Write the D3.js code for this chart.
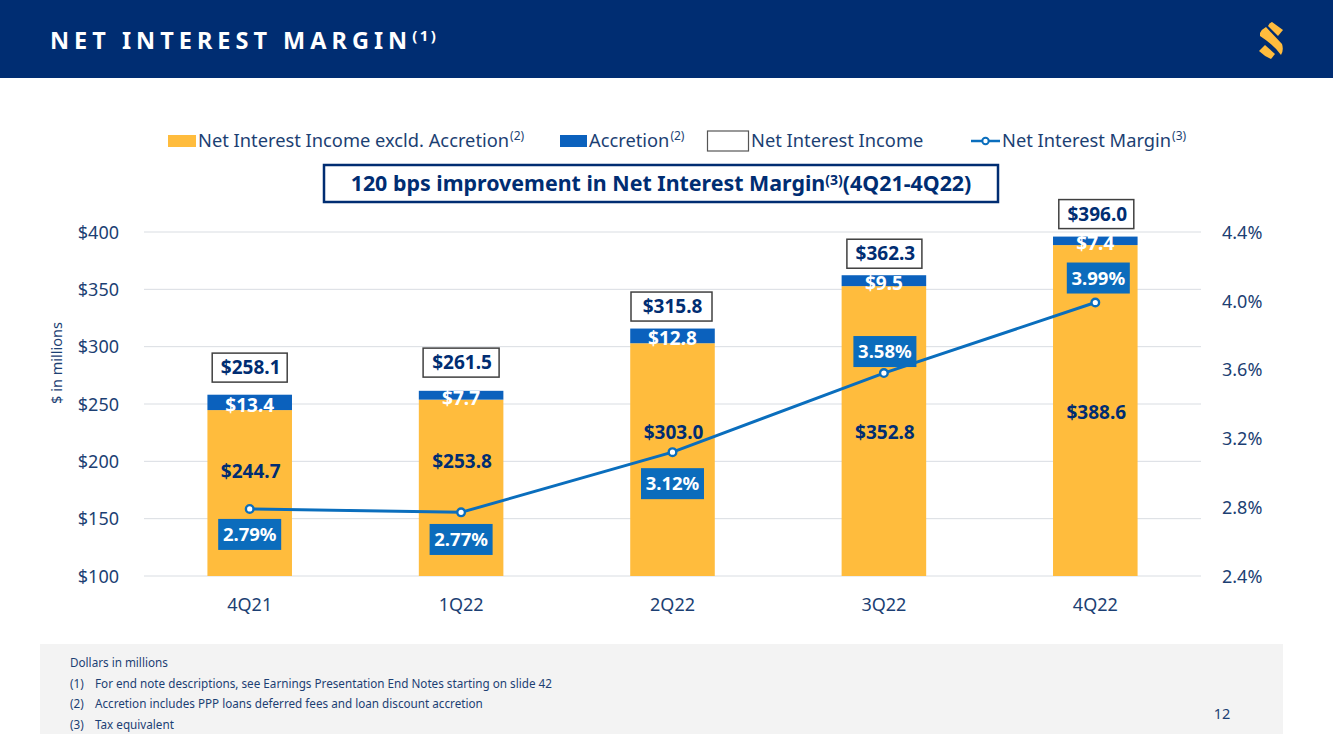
<!DOCTYPE html>
<html>
<head>
<meta charset="utf-8">
<script src="https://cdn.jsdelivr.net/npm/d3@7"></script>
<style>
  body { margin: 0; background: #fff; }
  svg { display: block; }
  text { font-family: "Noto Sans", "Open Sans", sans-serif; }
</style>
</head>
<body>
<script>
const quarters = ['4Q21', '1Q22', '2Q22', '3Q22', '4Q22']
const incomeExcl = [244.7, 253.8, 303.0, 352.8, 388.6]
const accretion = [13.4, 7.7, 12.8, 9.5, 7.4]
const incomeTotal = [258.1, 261.5, 315.8, 362.3, 396.0]
const margin = [2.79, 2.77, 3.12, 3.58, 3.99]
const dollarTicks = [100, 150, 200, 250, 300, 350, 400]
const percentTicks = [2.4, 2.8, 3.2, 3.6, 4.0, 4.4]
const footnotes = [
  ['', 'Dollars in millions'],
  ['(1)', 'For end note descriptions, see Earnings Presentation End Notes starting on slide 42'],
  ['(2)', 'Accretion includes PPP loans deferred fees and loan discount accretion'],
  ['(3)', 'Tax equivalent']
]

const navy = '#002d72'
const textBlue = '#1c3f73'
const gold = '#ffbc3d'
const blue = '#0b61bd'
const lineBlue = '#0a6ebd'

// hand placed label nudges, same as the slide (pixels from the mark they belong to)
const exclLabelDy = [68, 68, 96, 153, 174]
const totalBoxGap = [12.6, 13.7, 7.5, 7, 8]
const totalBoxDx = [0, 0, -1, 0.5, 1]
const totalBoxW = [75, 76, 81, 75, 75]
const marginBoxDy = [10, 11.6, 16, -37, -40]
const marginBoxDx = [0, 0, 0, 1, 3]

const width = 1333
const height = 749
const svg = d3.select('body').append('svg').attr('width', width).attr('height', height)

// header
svg.append('rect').attr('width', width).attr('height', 78).attr('fill', navy)
const title = svg.append('text').attr('x', 50).attr('y', 49).attr('fill', '#fff')
  .attr('font-size', 23.5).attr('font-weight', 700).attr('letter-spacing', 5)
title.append('tspan').text('NET INTEREST MARGIN')
title.append('tspan').attr('dy', -8).attr('font-size', 15).attr('letter-spacing', 2.5).text('(1)')

// logo
const logo = svg.append('g').attr('fill', gold)
logo.append('path').attr('d', 'M1268 26 Q1269 23 1272 22 L1283 30 L1278 36 Z')
logo.append('path').attr('d', 'M1260 33 Q1262 29 1266 27 L1282 44 Q1284 50 1281 55 Q1274 45 1260 36 Z')
logo.append('path').attr('d', 'M1259 51 L1265 45 L1275 54 L1271 59 Q1264 56 1259 51 Z')

// scales
const x = d3.scaleBand().domain(quarters).range([144, 1201]).paddingInner(0.6).paddingOuter(0.3)
const y = d3.scaleLinear().domain([100, 400]).range([576, 232])
const yRight = d3.scaleLinear().domain([2.4, 4.4]).range([576, 232])
const cx = (q) => x(q) + x.bandwidth() / 2

// gridlines and axes
svg.append('g').selectAll('line').data(dollarTicks).enter().append('line')
  .attr('x1', 144).attr('x2', 1201)
  .attr('y1', (d) => y(d)).attr('y2', (d) => y(d))
  .attr('stroke', '#d9dde2').attr('stroke-width', 1)

const styleAxis = (g) => {
  g.select('.domain').remove()
  g.selectAll('.tick line').remove()
  g.selectAll('text').attr('fill', textBlue).attr('font-size', 18)
    .style('font-family', '"Noto Sans", "Open Sans", sans-serif')
}

svg.append('g').attr('transform', 'translate(119,0.5)')
  .call(d3.axisLeft(y).tickValues(dollarTicks).tickSize(0).tickPadding(0).tickFormat((d) => '$' + d))
  .call(styleAxis)
svg.append('g').attr('transform', 'translate(1222,0.5)')
  .call(d3.axisRight(yRight).tickValues(percentTicks).tickSize(0).tickPadding(0).tickFormat((d) => d.toFixed(1) + '%'))
  .call(styleAxis)
svg.append('g').attr('transform', 'translate(0,598)')
  .call(d3.axisBottom(x).tickSize(0).tickPadding(0))
  .call(styleAxis)

svg.append('text').attr('transform', 'translate(62,363) rotate(-90)')
  .attr('text-anchor', 'middle').attr('fill', textBlue).attr('font-size', 14.5).text('$ in millions')

// stacked bars
quarters.forEach((q, i) => {
  svg.append('rect').attr('x', x(q)).attr('width', x.bandwidth())
    .attr('y', y(incomeExcl[i])).attr('height', y(100) - y(incomeExcl[i])).attr('fill', gold)
  svg.append('rect').attr('x', x(q)).attr('width', x.bandwidth())
    .attr('y', y(incomeTotal[i])).attr('height', y(incomeExcl[i]) - y(incomeTotal[i])).attr('fill', blue)

  // accretion label is taller than the thin segment, it runs over into the gold like the slide
  svg.append('text').attr('x', cx(q)).attr('text-anchor', 'middle')
    .attr('y', (y(incomeTotal[i]) + y(incomeExcl[i])) / 2 + 9.5)
    .attr('fill', '#fff').attr('font-size', 19).attr('font-weight', 700)
    .text('$' + accretion[i].toFixed(1))

  svg.append('text').attr('x', cx(q) + 1).attr('y', y(incomeExcl[i]) + exclLabelDy[i]).attr('text-anchor', 'middle')
    .attr('fill', navy).attr('font-size', 19).attr('font-weight', 700)
    .text('$' + incomeExcl[i].toFixed(1))
})

// total boxes
quarters.forEach((q, i) => {
  const boxY = y(incomeTotal[i]) - totalBoxGap[i] - 29
  svg.append('rect').attr('x', cx(q) + totalBoxDx[i] - totalBoxW[i] / 2)
    .attr('y', boxY).attr('width', totalBoxW[i]).attr('height', 29)
    .attr('fill', '#fff').attr('stroke', '#404040').attr('stroke-width', 1.5)
  svg.append('text').attr('x', cx(q) + totalBoxDx[i] + 1)
    .attr('y', boxY + 21).attr('text-anchor', 'middle')
    .attr('fill', navy).attr('font-size', 19).attr('font-weight', 700)
    .text('$' + incomeTotal[i].toFixed(1))
})

// margin line
const line = d3.line().x((d, i) => cx(quarters[i])).y((d) => yRight(d))
svg.append('path').datum(margin).attr('d', line).attr('fill', 'none')
  .attr('stroke', lineBlue).attr('stroke-width', 3)
svg.selectAll('.dot').data(margin).enter().append('circle').attr('class', 'dot')
  .attr('cx', (d, i) => cx(quarters[i])).attr('cy', (d) => yRight(d)).attr('r', 3.8)
  .attr('fill', '#fff').attr('stroke', lineBlue).attr('stroke-width', 2.4)

// margin labels
quarters.forEach((q, i) => {
  const boxY = yRight(margin[i]) + marginBoxDy[i]
  svg.append('rect').attr('x', cx(q) + marginBoxDx[i] - 31.5).attr('y', boxY)
    .attr('width', 63).attr('height', 31).attr('fill', '#0b6cbc')
  svg.append('text').attr('x', cx(q) + marginBoxDx[i]).attr('y', boxY + 22)
    .attr('text-anchor', 'middle').attr('fill', '#fff').attr('font-size', 18.5).attr('font-weight', 700)
    .text(margin[i].toFixed(2) + '%')
})

// legend
const legendText = (lx, label, note) => {
  const t = svg.append('text').attr('x', lx).attr('y', 147).attr('fill', textBlue).attr('font-size', 18.3)
  t.append('tspan').text(label)
  if (note) t.append('tspan').attr('dy', -7).attr('dx', 1).attr('font-size', 12).text(note)
}
svg.append('rect').attr('x', 168).attr('y', 135).attr('width', 28).attr('height', 12).attr('fill', gold)
legendText(198, 'Net Interest Income excld. Accretion', '(2)')
svg.append('rect').attr('x', 560).attr('y', 135).attr('width', 27).attr('height', 12).attr('fill', blue)
legendText(589, 'Accretion', '(2)')
svg.append('rect').attr('x', 707.5).attr('y', 131).attr('width', 41).attr('height', 20)
  .attr('fill', '#fff').attr('stroke', '#555').attr('stroke-width', 1.2)
legendText(751, 'Net Interest Income')
svg.append('line').attr('x1', 971).attr('x2', 1000).attr('y1', 141).attr('y2', 141)
  .attr('stroke', lineBlue).attr('stroke-width', 2.5)
svg.append('circle').attr('cx', 985.5).attr('cy', 141).attr('r', 3.2)
  .attr('fill', '#fff').attr('stroke', lineBlue).attr('stroke-width', 2)
legendText(1002, 'Net Interest Margin', '(3)')

// callout
svg.append('rect').attr('x', 324).attr('y', 165).attr('width', 674).attr('height', 37)
  .attr('fill', '#fff').attr('stroke', navy).attr('stroke-width', 2.5)
const callout = svg.append('text').attr('x', 661).attr('y', 191).attr('text-anchor', 'middle')
  .attr('fill', navy).attr('font-size', 21.4).attr('font-weight', 700)
callout.append('tspan').text('120 bps improvement in Net Interest Margin')
callout.append('tspan').attr('dy', -6).attr('font-size', 14).text('(3)')
callout.append('tspan').attr('dy', 6).text('(4Q21-4Q22)')

// footnotes
svg.append('rect').attr('x', 40).attr('y', 644).attr('width', 1243).attr('height', 90).attr('fill', '#f3f3f3')
const noteY = d3.scalePoint().domain(d3.range(footnotes.length)).range([667, 729])
footnotes.forEach((n, i) => {
  if (n[0]) {
    svg.append('text').attr('x', 70).attr('y', noteY(i)).attr('fill', textBlue).attr('font-size', 11.7).text(n[0])
    svg.append('text').attr('x', 95).attr('y', noteY(i)).attr('fill', textBlue).attr('font-size', 11.7).text(n[1])
  } else {
    svg.append('text').attr('x', 70).attr('y', noteY(i)).attr('fill', textBlue).attr('font-size', 11.7).text(n[1])
  }
})

svg.append('text').attr('x', 1222).attr('y', 719).attr('text-anchor', 'middle')
  .attr('fill', textBlue).attr('font-size', 14.5).text('12')
</script>
</body>
</html>
